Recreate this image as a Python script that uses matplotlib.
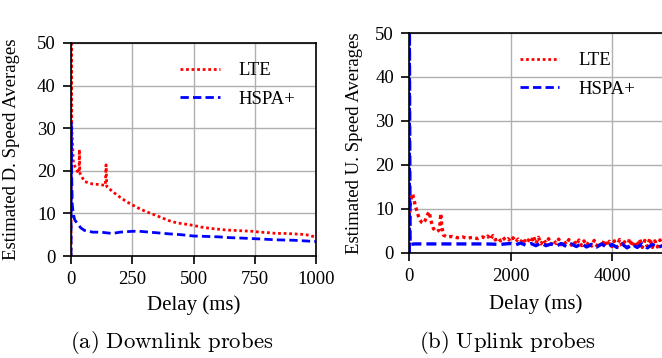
import matplotlib
matplotlib.use('Agg')
from matplotlib import pyplot as plt

plt.rcParams['font.family'] = ['Liberation Serif', 'DejaVu Serif']
plt.rcParams['mathtext.fontset'] = 'cm'

# downlink probes (delay in ms, estimated speed)
dl_lte_x = [0, 1, 3, 9.5, 20, 27, 33, 34, 36, 45, 55, 70, 89, 110, 123, 140, 143, 146,
            170, 200, 225, 250, 280, 307, 335, 361, 400, 430, 465, 498, 530, 566,
            600, 634, 670, 703, 740, 771, 800, 839, 870, 907, 940, 970, 1000]
dl_lte_y = [0, 55, 30, 21.8, 20.5, 19.8, 19.5, 25, 19.5, 18.5, 17.5, 17.2, 16.9, 16.8,
            16.7, 16.6, 21.4, 16.3, 15.1, 13.8, 12.8, 12.0, 11.1, 10.4, 9.8, 9.2,
            8.3, 7.8, 7.5, 7.2, 6.8, 6.5, 6.3, 6.1, 6.0, 5.9, 5.8, 5.6, 5.5, 5.3,
            5.3, 5.2, 5.1, 4.9, 4.4]
dl_hspa_x = [0, 1, 3, 5, 9, 15, 27, 40, 55, 89, 123, 150, 170, 200, 250, 280, 320,
             361, 400, 450, 498, 550, 600, 650, 700, 771, 839, 907, 1000]
dl_hspa_y = [0, 31.2, 18, 12, 10, 8.5, 7.5, 6.6, 6.0, 5.6, 5.6, 5.4, 5.3, 5.6, 5.8,
             5.8, 5.6, 5.4, 5.2, 5.0, 4.7, 4.6, 4.5, 4.3, 4.2, 4.0, 3.8, 3.7, 3.4]

# uplink probes
ul_lte_x = [0, 13, 40, 66, 93, 120, 145, 180, 212, 245, 278, 305, 331, 365, 397, 420,
            443, 476, 510, 542, 570, 595, 622, 641, 675, 741, 850, 950, 1050, 1138,
            1250, 1350, 1450,
            1500, 1550, 1600, 1650, 1700, 1750, 1800, 1850, 1900, 1950,
            2000, 2050, 2100, 2150, 2200, 2250, 2300, 2350, 2400, 2450,
            2500, 2550, 2600, 2650, 2700, 2750, 2800, 2850, 2900, 2950,
            3000, 3050, 3100, 3150, 3200, 3250, 3300, 3350, 3400, 3450,
            3500, 3550, 3600, 3650, 3700, 3750, 3800, 3850, 3900, 3950,
            4000, 4050, 4100, 4150, 4200, 4250, 4300, 4350, 4400, 4450,
            4500, 4550, 4600, 4650, 4700, 4750, 4800, 4850, 4900, 4950, 5000]
ul_lte_y = [0, 10.4, 12.5, 13.4, 12.0, 10.6, 9.7, 8.3, 7.4, 6.9, 6.7, 7.2, 7.8, 8.8,
            9.3, 7.5, 6.7, 5.5, 5.0, 4.8, 5.0, 5.3, 8.9, 5.9, 4.0, 3.6, 3.7, 3.4,
            3.6, 3.3, 3.5, 3.2, 3.6,
            3.3, 3.8, 3.0, 3.9, 2.9, 3.4, 2.7, 3.5, 2.8, 3.2,
            2.6, 3.4, 2.5, 3.1, 2.4, 3.3, 2.2, 2.9, 2.3, 3.8,
            2.1, 3.5, 2.0, 3.0, 2.2, 3.2, 1.9, 2.8, 2.1, 3.1,
            1.8, 2.7, 1.9, 3.0, 1.7, 2.6, 1.8, 2.9, 1.6, 2.7,
            1.7, 2.5, 1.5, 2.8, 1.6, 2.4, 1.4, 2.9, 1.5, 2.6,
            1.4, 2.7, 1.3, 3.0, 1.5, 2.5, 1.2, 3.2, 1.4, 2.6,
            1.3, 3.1, 1.2, 2.8, 1.4, 3.3, 1.2, 2.7, 1.3, 2.9, 1.8]
ul_hspa_x = [0, 1, 15, 40, 100, 300, 600, 900, 1200, 1500, 1800,
             2000, 2100, 2200, 2300, 2400, 2500, 2600, 2700, 2800, 2900,
             3000, 3100, 3200, 3300, 3400, 3500, 3600, 3700, 3800, 3900,
             4000, 4100, 4200, 4300, 4400, 4500, 4600, 4700, 4800, 4900, 5000]
ul_hspa_y = [0, 52, 1.9, 1.9, 2.0, 2.0, 2.0, 2.0, 2.0, 2.0, 1.9,
             2.1, 1.8, 2.2, 1.7, 2.1, 1.6, 2.2, 1.6, 2.0, 1.5,
             2.1, 1.4, 2.0, 1.4, 2.1, 1.3, 1.9, 1.3, 2.0, 1.2,
             1.9, 1.2, 2.0, 1.1, 1.9, 1.2, 2.0, 1.1, 1.9, 1.2, 1.6]

fig = plt.figure(figsize=(6.62, 3.58), dpi=100)
ax1 = fig.add_axes([0.1073, 0.2849, 0.370, 0.595])
ax2 = fig.add_axes([0.6183, 0.2941, 0.3825, 0.6137])

tick_fs = 13.5
for ax in (ax1, ax2):
    ax.grid(True, color='#b0b0b0', linewidth=1.0)
    ax.set_axisbelow(True)
    ax.tick_params(labelsize=tick_fs, direction='out', length=6, width=1.2, pad=5)
    for sp in ax.spines.values():
        sp.set_linewidth(1.2)

ax1.plot(dl_lte_x, dl_lte_y, color='red', linestyle=(0, (1, 1)), linewidth=2.0, label='LTE')
ax1.plot(dl_hspa_x, dl_hspa_y, color='blue', linestyle=(0, (3, 1.5)), linewidth=2.0,
         label='HSPA+')
ax1.set_xlim(0, 1000)
ax1.set_ylim(0, 50)
ax1.set_xticks([0, 250, 500, 750, 1000])
ax1.set_yticks([0, 10, 20, 30, 40, 50])
ax1.set_xlabel('Delay (ms)', fontsize=15, labelpad=5)
ax1.set_ylabel('Estimated D. Speed Averages', fontsize=13.5, labelpad=12)
ax1.legend(loc='upper right', frameon=False, fontsize=tick_fs, handlelength=2.1,
           handletextpad=1.0, labelspacing=0.6, bbox_to_anchor=(0.985, 0.99))

ax2.plot(ul_lte_x, ul_lte_y, color='red', linestyle=(0, (1, 1)), linewidth=2.4, label='LTE')
ax2.plot(ul_hspa_x, ul_hspa_y, color='blue', linestyle=(0, (3, 1.5)), linewidth=2.4,
         label='HSPA+')
ax2.set_xlim(0, 5000)
ax2.set_ylim(0, 50)
ax2.set_xticks([0, 2000, 4000])
ax2.set_yticks([0, 10, 20, 30, 40, 50])
ax2.set_xlabel('Delay (ms)', fontsize=15, labelpad=7)
ax2.set_ylabel('Estimated U. Speed Averages', fontsize=13.5, labelpad=9)
leg2 = ax2.legend(loc='upper left', frameon=False, fontsize=tick_fs, handlelength=2.1,
                  handletextpad=1.0, labelspacing=0.6, bbox_to_anchor=(0.37, 0.99))
for h in leg2.get_lines():
    h.set_linewidth(2.0)

fig.text(0.260, 1 - 343 / 358, r'$\mathrm{(a)\ Downlink\ probes}$', fontsize=16.4,
         ha='center', va='center')
fig.text(0.766, 1 - 343 / 358, r'$\mathrm{(b)\ Uplink\ probes}$', fontsize=16.4,
         ha='center', va='center')

plt.savefig('out.png', dpi=100)
